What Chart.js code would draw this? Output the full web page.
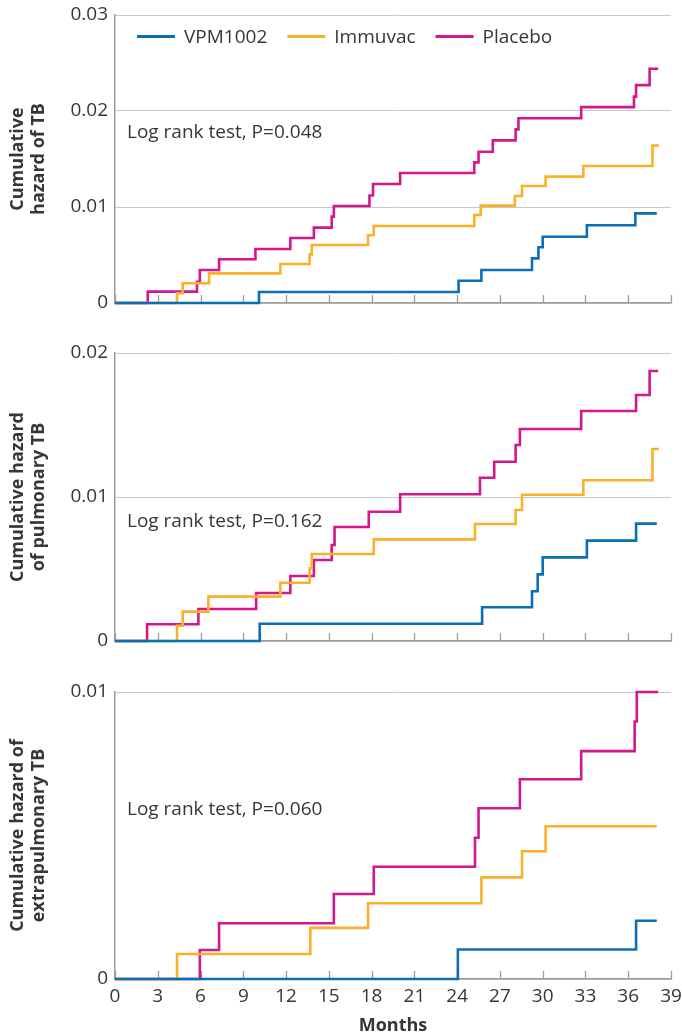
<!DOCTYPE html>
<html>
<head>
<meta charset="utf-8">
<script src="https://cdn.jsdelivr.net/npm/chart.js@4.4.1/dist/chart.umd.min.js"></script>
<style>
  body { margin: 0; background: #fff; width: 682px; height: 1035px; position: relative; overflow: hidden; }
  .panel { position: absolute; left: 0; width: 682px; }
</style>
</head>
<body>
<div class="panel" style="top:0px"><canvas id="tbChart" width="682" height="320"></canvas></div>
<div class="panel" style="top:325px"><canvas id="pulChart" width="682" height="330"></canvas></div>
<div class="panel" style="top:680px"><canvas id="expChart" width="682" height="355"></canvas></div>
<script>
const seriesNames = ["VPM1002", "Immuvac", "Placebo"];
const monthTicks = [0, 3, 6, 9, 12, 15, 18, 21, 24, 27, 30, 33, 36, 39];

// Cumulative hazard of TB
const tbVpmMonths = [0, 10.1, 24.1, 25.7, 29.25, 29.7, 30.0, 33.1, 36.5, 38.0];
const tbVpmHazard = [0, 0.00115, 0.00232, 0.00344, 0.00465, 0.0058, 0.0069, 0.0081, 0.00934, 0.00934];
const tbImmMonths = [0, 4.35, 4.75, 6.6, 11.6, 13.65, 13.8, 17.75, 18.15, 25.2, 25.65, 28.05, 28.55, 30.2, 32.85, 37.7, 38.15];
const tbImmHazard = [0, 0.00101, 0.00205, 0.00309, 0.00406, 0.00507, 0.00604, 0.00705, 0.00802, 0.00917, 0.01014, 0.01115, 0.01219, 0.01316, 0.01427, 0.01639, 0.01639];
const tbPlaMonths = [0, 2.3, 5.75, 5.95, 7.3, 9.85, 12.3, 13.95, 15.2, 15.35, 17.85, 18.1, 20.0, 25.2, 25.5, 26.5, 28.1, 28.3, 32.7, 36.4, 36.55, 37.5, 38.1];
const tbPlaHazard = [0, 0.00118, 0.00222, 0.00344, 0.00455, 0.00563, 0.00677, 0.00785, 0.009, 0.0101, 0.0112, 0.0124, 0.01354, 0.01465, 0.01576, 0.01694, 0.01809, 0.01924, 0.0204, 0.0215, 0.0227, 0.0244, 0.0244];

// Cumulative hazard of pulmonary TB
const pulVpmMonths = [0, 10.15, 25.75, 29.25, 29.65, 30.0, 33.1, 36.55, 38.0];
const pulVpmHazard = [0, 0.0012, 0.00234, 0.00345, 0.00463, 0.00581, 0.00697, 0.00815, 0.00815];
const pulImmMonths = [0, 4.35, 4.75, 6.55, 11.6, 13.65, 13.8, 18.15, 25.25, 28.1, 28.55, 32.85, 37.7, 38.15];
const pulImmHazard = [0, 0.00106, 0.00204, 0.00308, 0.00405, 0.00505, 0.00604, 0.00706, 0.00812, 0.0091, 0.01016, 0.01116, 0.01333, 0.01333];
const pulPlaMonths = [0, 2.25, 5.85, 9.9, 12.3, 13.95, 15.2, 15.4, 17.8, 20.0, 25.6, 26.6, 28.1, 28.4, 32.7, 36.55, 37.5, 38.1];
const pulPlaHazard = [0, 0.00116, 0.00222, 0.00333, 0.00451, 0.00562, 0.00667, 0.00792, 0.00898, 0.01019, 0.01134, 0.01245, 0.01361, 0.01472, 0.01597, 0.01708, 0.01875, 0.01875];

// Cumulative hazard of extrapulmonary TB
const expVpmMonths = [0, 24.05, 36.55, 38.0];
const expVpmHazard = [0, 0.00103, 0.00203, 0.00203];
const expImmMonths = [0, 4.35, 13.7, 17.75, 25.7, 28.55, 30.2, 38.0];
const expImmHazard = [0, 0.00087, 0.00178, 0.00264, 0.00354, 0.00445, 0.00532, 0.00532];
const expPlaMonths = [0, 5.95, 7.3, 15.35, 18.15, 25.25, 25.5, 28.4, 32.7, 36.45, 36.6, 38.1];
const expPlaHazard = [0, 0.00101, 0.00194, 0.00296, 0.00391, 0.00492, 0.00595, 0.00696, 0.00794, 0.00897, 0.01, 0.01];

const colors = ["#0b6fb6", "#fbb029", "#d4178b"];
const textColor = "#363636";
const axisColor = "#9c9c9c";
const gridColor = "#c8c8c8";
const fontName = "'Open Sans', 'Noto Sans', sans-serif";

function points(months, hazard) {
  return months.map((m, i) => ({ x: m, y: hazard[i] }));
}

function makeDatasets(groups) {
  return groups.map((g, i) => ({
    label: seriesNames[i],
    data: points(g[0], g[1]),
    borderColor: colors[i],
    backgroundColor: colors[i],
    borderWidth: 2.6,
    stepped: "before",
    pointRadius: 0,
    fill: false,
    clip: 4,
  }));
}

// short tick marks pointing up from the x axis
const innerTicks = {
  id: "innerTicks",
  beforeDatasetsDraw(chart) {
    const ctx = chart.ctx;
    const x = chart.scales.x;
    const bottom = chart.chartArea.bottom;
    ctx.save();
    ctx.strokeStyle = axisColor;
    ctx.lineWidth = 1.3;
    monthTicks.forEach((m) => {
      const px = Math.round(x.getPixelForValue(m)) + 0.5;
      ctx.beginPath();
      ctx.moveTo(px, bottom);
      ctx.lineTo(px, bottom - 8);
      ctx.stroke();
    });
    ctx.restore();
  },
};

const noteText = {
  id: "noteText",
  afterDraw(chart, args, opts) {
    if (!opts.text) return;
    const ctx = chart.ctx;
    ctx.save();
    ctx.font = "19px " + fontName;
    ctx.fillStyle = textColor;
    ctx.textBaseline = "middle";
    ctx.textAlign = "left";
    ctx.fillText(opts.text, chart.chartArea.left + 12, chart.chartArea.top + opts.top);
    ctx.restore();
  },
};

const lineLegend = {
  id: "lineLegend",
  afterDraw(chart, args, opts) {
    if (!opts.show) return;
    const ctx = chart.ctx;
    ctx.save();
    ctx.font = "19px " + fontName;
    ctx.textBaseline = "middle";
    ctx.textAlign = "left";
    let x = chart.chartArea.left + 22;
    const y = chart.chartArea.top + 21.5;
    chart.data.datasets.forEach((ds) => {
      ctx.strokeStyle = ds.borderColor;
      ctx.lineWidth = 3;
      ctx.beginPath();
      ctx.moveTo(x, y);
      ctx.lineTo(x + 38, y);
      ctx.stroke();
      ctx.fillStyle = textColor;
      ctx.fillText(ds.label, x + 47, y + 1);
      x += 47 + ctx.measureText(ds.label).width + 20;
    });
    ctx.restore();
  },
};

function renderPanel(id, groups, opts) {
  const ctx = document.getElementById(id);
  new Chart(ctx, {
    type: "line",
    data: { datasets: makeDatasets(groups) },
    plugins: [innerTicks, noteText, lineLegend],
    options: {
      responsive: false,
      animation: false,
      layout: { padding: opts.padding },
      scales: {
        x: {
          type: "linear",
          min: 0,
          max: 39,
          afterFit: (s) => {
            s.height = opts.xHeight;
            s.paddingLeft = 0;
            s.paddingRight = 0;
            s.paddingTop = 0;
            s.paddingBottom = 0;
          },
          afterBuildTicks: (s) => { s.ticks = monthTicks.map((v) => ({ value: v })); },
          grid: { display: false, drawTicks: false },
          border: { display: true, color: axisColor, width: 1.5 },
          ticks: {
            display: opts.showMonths,
            padding: 6,
            color: textColor,
            font: { family: fontName, size: 19 },
            maxRotation: 0,
            autoSkip: false,
          },
          title: {
            display: opts.showMonths,
            text: "Months",
            color: textColor,
            padding: { top: 0, bottom: 0 },
            font: { family: fontName, size: 18, weight: "bold", lineHeight: 1 },
          },
        },
        y: {
          min: 0,
          max: opts.yMax,
          afterFit: (s) => {
            s.width = 115;
            s.paddingTop = 0;
            s.paddingBottom = 0;
          },
          grid: { color: gridColor, lineWidth: 1, drawTicks: false },
          border: { display: true, color: axisColor, width: 1.5 },
          ticks: {
            stepSize: 0.01,
            padding: 7,
            color: textColor,
            font: { family: fontName, size: 19 },
            callback: (v) => (v === 0 ? "0" : v.toFixed(2)),
          },
          title: {
            display: true,
            text: opts.yTitle,
            color: textColor,
            padding: { top: 7, bottom: 0 },
            font: { family: fontName, size: 18, weight: "bold", lineHeight: 1.17 },
          },
        },
      },
      plugins: {
        legend: { display: false },
        tooltip: { enabled: false },
        noteText: { text: opts.note, top: opts.noteTop },
        lineLegend: { show: opts.legend },
      },
    },
  });
}

renderPanel("tbChart",
  [[tbVpmMonths, tbVpmHazard], [tbImmMonths, tbImmHazard], [tbPlaMonths, tbPlaHazard]],
  {
    padding: { top: 15, right: 11, bottom: 17, left: 0 },
    xHeight: 0, showMonths: false, yMax: 0.03,
    yTitle: ["Cumulative", "hazard of TB"],
    note: "Log rank test, P=0.048", noteTop: 118, legend: true,
  });

renderPanel("pulChart",
  [[pulVpmMonths, pulVpmHazard], [pulImmMonths, pulImmHazard], [pulPlaMonths, pulPlaHazard]],
  {
    padding: { top: 28, right: 11, bottom: 14, left: 0 },
    xHeight: 0, showMonths: false, yMax: 0.02,
    yTitle: ["Cumulative hazard", "of pulmonary TB"],
    note: "Log rank test, P=0.162", noteTop: 169, legend: false,
  });

renderPanel("expChart",
  [[expVpmMonths, expVpmHazard], [expImmMonths, expImmHazard], [expPlaMonths, expPlaHazard]],
  {
    padding: { top: 12, right: 11, bottom: 0, left: 0 },
    xHeight: 56, showMonths: true, yMax: 0.01,
    yTitle: ["Cumulative hazard of", "extrapulmonary TB"],
    note: "Log rank test, P=0.060", noteTop: 118, legend: false,
  });
</script>
</body>
</html>
